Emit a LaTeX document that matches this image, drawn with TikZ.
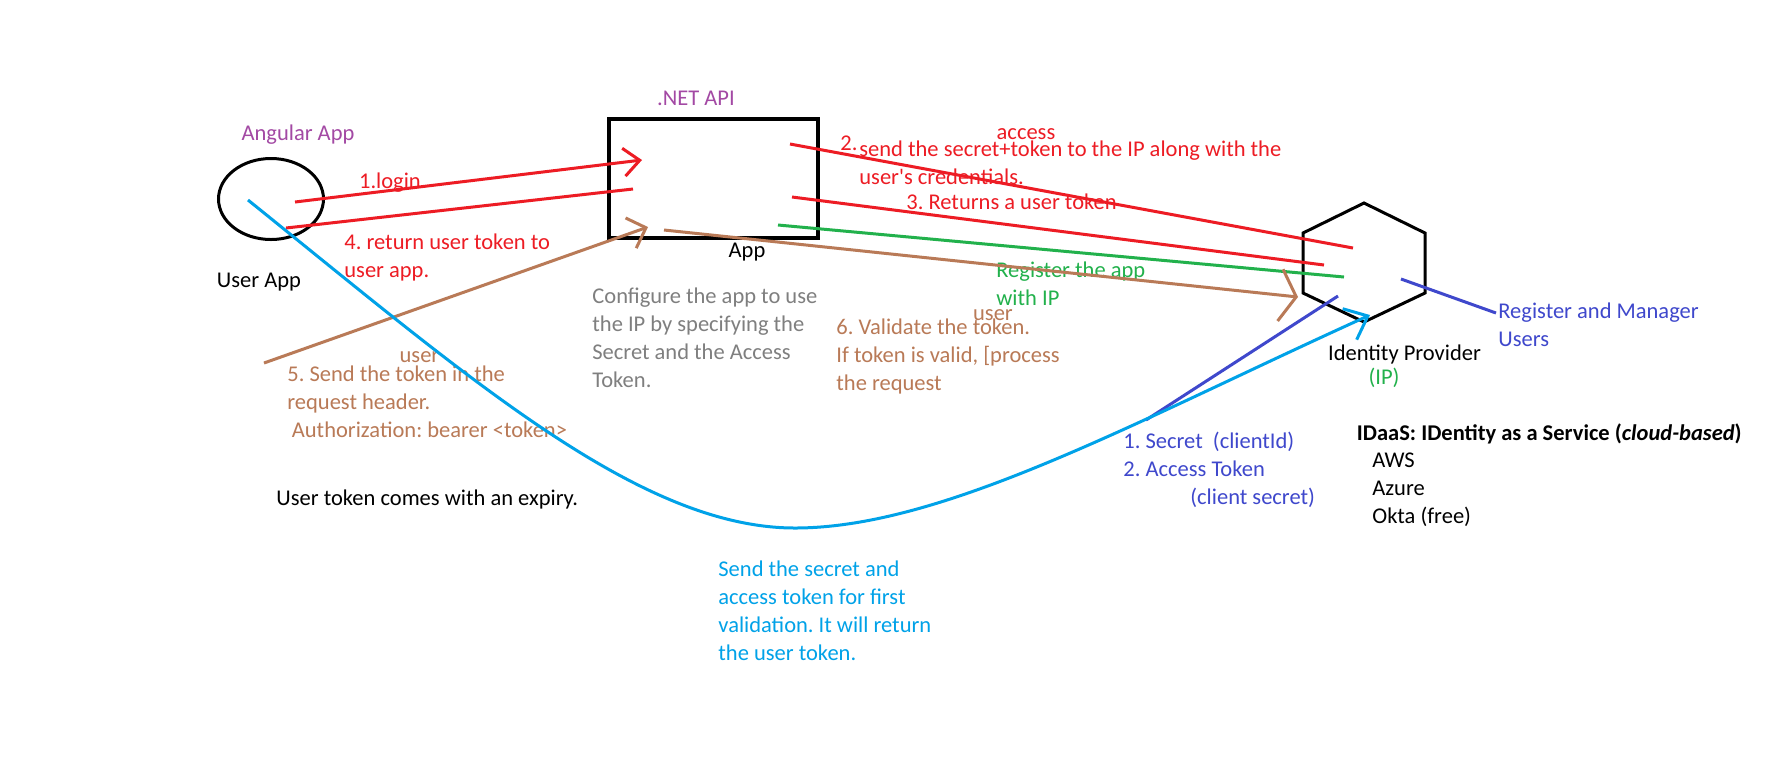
\documentclass[tikz,border=0pt]{standalone}
\usepackage{fontspec}
\setmainfont{Carlito}
\usetikzlibrary{shapes.geometric,arrows.meta}

\definecolor{paintred}{HTML}{ED1C24}
\definecolor{paintgreen}{HTML}{22B14C}
\definecolor{paintbrown}{HTML}{B97A57}
\definecolor{paintcyan}{HTML}{00A2E8}
\definecolor{paintblue}{HTML}{3F48CC}
\definecolor{paintpurple}{HTML}{A349A4}
\definecolor{notegray}{HTML}{7F7F7F}

\tikzset{
  txt/.style={font=\fontsize{11.25pt}{14pt}\selectfont\frenchspacing, inner sep=0pt, anchor=mid west, yshift=-1.2pt},
  para/.style={font=\fontsize{11.25pt}{14pt}\selectfont\frenchspacing, inner sep=0pt, anchor=north west, align=left, yshift=-1.2pt},
  pen/.style={line width=1.5pt},
  barb/.style={-{Straight Barb[length=8pt,width=#1]}},
  barb/.default=14pt
}

\begin{document}
\begin{tikzpicture}[x=0.5pt, y=-0.5pt]
\useasboundingbox [fill=white] (0, 0) rectangle (1790, 768);

\node (userapp) at (271, 199) [draw, pen, ellipse, minimum width=52.5pt, minimum height=40.5pt] {};
\node (api) at (713.5, 178.5) [draw, line width=2pt, minimum width=104.5pt, minimum height=59.5pt] {};
\coordinate (ip) at (1364, 262.5);
\draw [pen] (ip) ++(0, -59.5) -- ++(61, 30) -- ++(0, 60) -- ++(-61, 29) -- ++(-61, -29) -- ++(0, -60) -- cycle;

\node (angular) at (298, 133) [txt, anchor=mid, text=paintpurple] {Angular App};
\node (netapi) at (696, 98) [txt, anchor=mid, text=paintpurple] {.NET API};
\node (uatitle) at (259, 280) [txt, anchor=mid] {User App};
\node (apptitle) at (747, 250) [txt, anchor=mid] {App};
\node (login) at (390, 181) [txt, anchor=mid, text=paintred] {1.login};
\node (retuser) at (344, 231) [para, text=paintred] {4. return user token to\\user app.};
\node (access) at (1026, 132) [txt, anchor=mid, text=paintred] {access};
\node (stepno) at (840, 143) [txt, text=paintred] {2.};
\node (sendcred) at (859, 138) [para, text=paintred] {send the secret+token to the IP along with the\\user\textquotesingle s credentials.};
\node (rettoken) at (906, 202) [txt, text=paintred] {3. Returns a user token};
\node (register) at (996, 259) [para, text=paintgreen] {Register the app\\with IP};
\node (userb) at (993, 313) [txt, anchor=mid, text=paintbrown] {user};
\node (validate) at (836, 316) [para, text=paintbrown] {6. Validate the token.\\If token is valid, [process\\the request};
\node (configure) at (592, 285) [para, text=notegray] {Configure the app to use\\the IP by specifying the\\Secret and the Access\\Token.};
\node (usera) at (419.5, 355) [txt, anchor=mid, text=paintbrown] {user};
\node (sendhdr) at (287, 363) [para, text=paintbrown] {5. Send the token in the\\request header.\\\hspace{2.25pt}Authorization: bearer <token>};
\node (expiry) at (276, 498) [txt] {User token comes with an expiry.};
\node (firstval) at (718, 558) [para, text=paintcyan] {Send the secret and\\access token for first\\validation. It will return\\the user token.};
\node (creds) at (1123, 429) [para, text=paintblue] {1. Secret\ \ (clientId)\\2. Access Token\\\hspace{33.5pt}(client secret)};
\node (idp) at (1404.5, 353) [txt, anchor=mid] {Identity Provider};
\node (ipabbr) at (1384, 377) [txt, anchor=mid, text=paintgreen] {(IP)};
\node (manage) at (1498, 300) [para, text=paintblue] {Register and Manager\\Users};
\node (idaas) at (1356.5, 433) [txt] {\bfseries IDaaS: IDentity as a Service (\textit{cloud-based})};
\node (vendors) at (1372, 450) [para] {AWS\\Azure\\Okta (free)};

\coordinate (loginfrom) at (295, 202);
\coordinate (loginto) at (642, 160);
\coordinate (retfrom) at (633, 189);
\coordinate (retto) at (286, 228);
\coordinate (credfrom) at (790, 144);
\coordinate (credto) at (1353, 248);
\coordinate (tokfrom) at (792, 197);
\coordinate (tokto) at (1324, 265);
\coordinate (regfrom) at (778, 225);
\coordinate (regto) at (1344, 277);
\coordinate (valfrom) at (664, 230);
\coordinate (valto) at (1298, 297);
\coordinate (hdrfrom) at (264, 363);
\coordinate (hdrto) at (648, 227);
\coordinate (secfrom) at (1146, 420);
\coordinate (secto) at (1338, 296);
\coordinate (mgrfrom) at (1401, 279);
\coordinate (mgrto) at (1496, 313);
\coordinate (curvefrom) at (248, 200);
\coordinate (curvelow) at (795, 528);
\coordinate (curveto) at (1370, 315);

\draw [pen, barb, paintred] (loginfrom) -- (loginto);
\draw [pen, paintred] (retfrom) -- (retto);
\draw [pen, paintred] (credfrom) -- (credto);
\draw [pen, paintred] (tokfrom) -- (tokto);
\draw [pen, paintgreen] (regfrom) -- (regto);
\draw [pen, barb=26pt, paintbrown] (valfrom) -- (valto);
\draw [pen, barb=16pt, paintbrown] (hdrfrom) -- (hdrto);
\draw [pen, paintblue] (secfrom) -- (secto);
\draw [pen, paintblue] (mgrfrom) -- (mgrto);
\draw [pen, -{Straight Barb[length=10pt,width=17pt]}, paintcyan] (curvefrom) .. controls (470, 379) and (640, 528) .. (curvelow) .. controls (945, 528) and (1140, 419) .. (curveto);
\end{tikzpicture}
\end{document}
